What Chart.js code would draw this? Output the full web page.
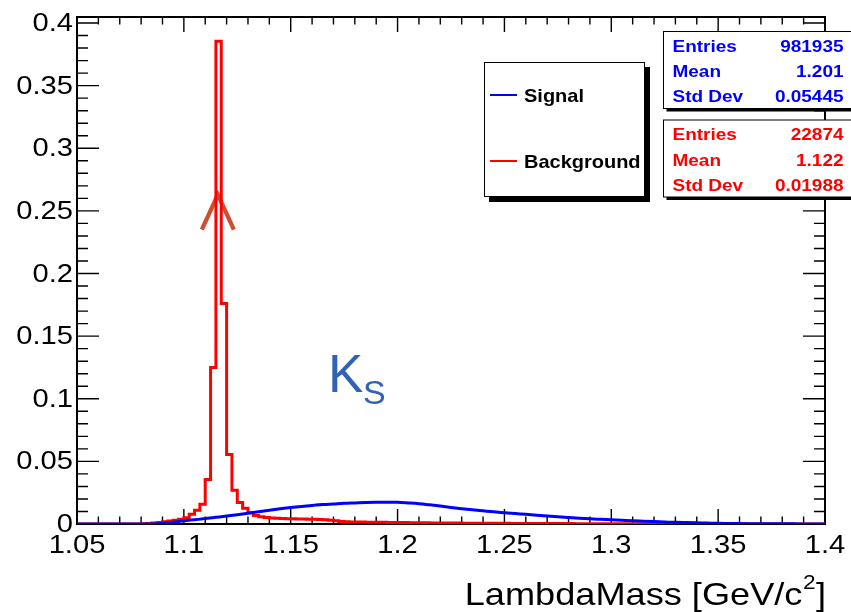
<!DOCTYPE html>
<html>
<head>
<meta charset="utf-8">
<script src="https://cdn.jsdelivr.net/npm/chart.js@4.4.1/dist/chart.umd.min.js"></script>
<style>
  html, body { margin: 0; padding: 0; background: #ffffff; }
  #wrap { width: 851px; height: 612px; }
</style>
</head>
<body>
<div id="wrap"><canvas id="c" width="851" height="612" style="width:851px;height:612px"></canvas></div>
<script>
// ---------------- DATA ----------------
const xTickValues = [1.05, 1.1, 1.15, 1.2, 1.25, 1.3, 1.35, 1.4];
const xTickLabels = ['1.05', '1.1', '1.15', '1.2', '1.25', '1.3', '1.35', '1.4'];
const yTickValues = [0, 0.05, 0.1, 0.15, 0.2, 0.25, 0.3, 0.35, 0.4];
const yTickLabels = ['0', '0.05', '0.1', '0.15', '0.2', '0.25', '0.3', '0.35', '0.4'];
const xTitle = 'LambdaMass [GeV/c';
const xTitleSup = '2';
const xTitleEnd = ']';

// Background histogram: 140 bins of 0.0025 from 1.05 to 1.40 (bin contents)
const bgBinStart = 1.05;
const bgBinWidth = 0.0025;
const backgroundCounts = [
  0,0,0,0,0,0,0,0,0,0,
  0,0,0.0002,0.0004,0.0007,0.0011,0.0017,0.0023,0.0030,0.0038,
  0.0050,0.0077,0.0110,0.0157,0.0355,0.1250,0.3855,0.1760,0.0554,0.0270,
  0.0172,0.0125,0.0090,0.0068,0.0058,0.0052,0.0048,0.0045,0.0043,0.0042,
  0.0041,0.0040,0.0039,0.0038,0.0037,0.0035,0.0033,0.0030,0.0025,0.0020,
  0.0017,0.0016,0.0015,0.0015,0.0014,0.0014,0.0013,0.0013,0.0012,0.0012,
  0.0011,0.0011,0.0010,0.0010,0.0009,0.0009,0.0008,0.0008,0.0008,0.0007,
  0.0007,0.0007,0.0006,0.0006,0.0006,0.0006,0.0005,0.0005,0.0005,0.0005,
  0.0005,0.0004,0.0004,0.0004,0.0004,0.0004,0.0003,0.0003,0.0003,0.0003,
  0.0003,0.0003,0.0003,0.0002,0.0002,0.0002,0.0002,0.0002,0.0002,0.0002,
  0.0002,0.0002,0.0001,0.0001,0.0001,0.0001,0.0001,0.0001,0.0001,0.0001,
  0.0001,0.0001,0.0001,0.0001,0.0001,0.0001,0.0001,0.0001,0.0001,0.0001,
  0.0001,0.0001,0.0001,0.0001,0.0001,0,0,0,0,0,
  0,0,0,0,0,0,0,0,0,0
];

// Signal distribution sampled every 0.005 from 1.05 to 1.40
const sigStart = 1.05;
const sigStep = 0.005;
const signalValues = [
  0,0,0,0,0,0,0,0.0001,0.0006,0.0015,
  0.0025,0.0034,0.0043,0.0053,0.0063,0.0074,0.0086,0.0098,0.0110,0.0121,
  0.0131,0.0140,0.0148,0.0155,0.0160,0.0165,0.0168,0.0171,0.0173,0.0174,
  0.0173,0.0168,0.0162,0.0153,0.0143,0.0132,0.0122,0.0113,0.0105,0.0097,
  0.0090,0.0083,0.0077,0.0070,0.0064,0.0058,0.0052,0.0046,0.0041,0.0037,
  0.0033,0.0029,0.0025,0.0022,0.0019,0.0016,0.0013,0.0011,0.0009,0.0007,
  0.0005,0.0004,0.0003,0.0002,0.0002,0.0001,0.0001,0.0001,0,0,0
];

const legendNames = ['Signal', 'Background'];
const statLabels = ['Entries', 'Mean', 'Std Dev'];
const signalStats = ['981935', '1.201', '0.05445'];
const backgroundStats = ['22874', '1.122', '0.01988'];
const annotationText = 'K';
const annotationSub = 'S';
const arrowTip = { x: 1.1159, y: 0.263 };
const labelPos = { x: 1.1675, y: 0.1055 };

// ---------------- BUILD ----------------
const bgPoints = backgroundCounts.map((v, i) => ({ x: bgBinStart + i * bgBinWidth, y: v }));
bgPoints.push({ x: bgBinStart + backgroundCounts.length * bgBinWidth, y: backgroundCounts[backgroundCounts.length - 1] });
const sigPoints = signalValues.map((v, i) => ({ x: sigStart + i * sigStep, y: v }));

const FONT = '"Liberation Sans", Arial, Helvetica, sans-serif';
function txt(ctx, s, x, y, size, color, align, sx, bold) {
  ctx.save();
  ctx.font = (bold ? 'bold ' : '') + size + 'px ' + FONT;
  ctx.fillStyle = color;
  ctx.textBaseline = 'alphabetic';
  ctx.textAlign = 'left';
  const w = ctx.measureText(s).width * sx;
  const x0 = align === 'right' ? x - w : align === 'center' ? x - w / 2 : x;
  ctx.translate(x0, y);
  ctx.scale(sx, 1);
  ctx.fillText(s, 0, 0);
  ctx.restore();
  return w;
}
function measure(ctx, s, size, sx, bold) {
  ctx.save();
  ctx.font = (bold ? 'bold ' : '') + size + 'px ' + FONT;
  const w = ctx.measureText(s).width * sx;
  ctx.restore();
  return w;
}

const rootPlugin = {
  id: 'rootStyle',
  beforeDatasetsDraw(chart) {
    const { ctx, chartArea: a, scales: { x, y } } = chart;
    ctx.save();
    // arrow annotation
    const tx = x.getPixelForValue(arrowTip.x), ty = y.getPixelForValue(arrowTip.y);
    ctx.strokeStyle = 'rgb(208,78,46)';
    ctx.lineWidth = 4.2;
    ctx.lineJoin = 'miter';
    ctx.beginPath();
    ctx.moveTo(tx - 16, ty + 35);
    ctx.lineTo(tx, ty);
    ctx.lineTo(tx + 16, ty + 35);
    ctx.stroke();

    // ticks
    ctx.strokeStyle = '#000';
    ctx.lineWidth = 1.4;
    ctx.beginPath();
    for (let i = 0; i <= 35; i++) {
      const px = x.getPixelForValue(1.05 + i * 0.01);
      const L = (i % 5 === 0) ? 15 : 7.5;
      ctx.moveTo(px, a.bottom); ctx.lineTo(px, a.bottom - L);
      ctx.moveTo(px, a.top); ctx.lineTo(px, a.top + L);
    }
    for (let i = 0; i <= 40; i++) {
      const py = y.getPixelForValue(i * 0.01);
      const L = (i % 5 === 0) ? 22 : 11;
      ctx.moveTo(a.left, py); ctx.lineTo(a.left + L, py);
      ctx.moveTo(a.right, py); ctx.lineTo(a.right - L, py);
    }
    ctx.stroke();
    // frame
    ctx.lineWidth = 2;
    ctx.strokeRect(a.left, a.top, a.right - a.left, a.bottom - a.top);
    ctx.restore();
  },
  afterDraw(chart) {
    const { ctx, chartArea: a, scales: { x, y } } = chart;
    // tick labels
    yTickValues.forEach((v, i) => {
      txt(ctx, yTickLabels[i], a.left - 4, y.getPixelForValue(v) + 8, 26, '#000', 'right', 1.12, false);
    });
    xTickValues.forEach((v, i) => {
      txt(ctx, xTickLabels[i], x.getPixelForValue(v), 553, 26, '#000', 'center', 1.12, false);
    });
    // axis title
    const tf = 32, tsx = 1.13;
    const w1 = measure(ctx, xTitle, tf, tsx), w2 = measure(ctx, xTitleSup, 20, tsx), w3 = measure(ctx, xTitleEnd, tf, tsx);
    const start = a.right + 1 - (w1 + w2 + w3 + 1);
    txt(ctx, xTitle, start, 605, tf, '#000', 'left', tsx, false);
    txt(ctx, xTitleSup, start + w1 + 0.5, 589, 20, '#000', 'left', tsx, false);
    txt(ctx, xTitleEnd, start + w1 + w2 + 1, 605, tf, '#000', 'left', tsx, false);

    // legend box
    ctx.save();
    ctx.fillStyle = '#000';
    ctx.fillRect(489, 67, 161, 135);
    ctx.fillStyle = '#fff';
    ctx.fillRect(484, 62, 161, 135);
    ctx.strokeStyle = '#000';
    ctx.lineWidth = 1;
    ctx.strokeRect(484.5, 62.5, 160, 134);
    const legColors = ['#0000ff', '#ff0000'];
    const legY = [95, 161];
    legendNames.forEach((n, i) => {
      ctx.strokeStyle = legColors[i];
      ctx.lineWidth = 2;
      ctx.beginPath(); ctx.moveTo(490, legY[i]); ctx.lineTo(517, legY[i]); ctx.stroke();
      txt(ctx, n, 524, legY[i] + 6.6, 18.5, '#000', 'left', 1.08, true);
    });

    // stat boxes
    const boxes = [
      { top: 31.5, h: 77, color: '#0000ff', vals: signalStats, rows: [45.7, 70.7, 96] },
      { top: 120, h: 77, color: '#ff0000', vals: backgroundStats, rows: [134.3, 160, 185] }
    ];
    boxes.forEach(b => {
      ctx.fillStyle = '#000';
      ctx.fillRect(666.5, b.top + 3, 200, b.h);
      ctx.fillStyle = '#fff';
      ctx.fillRect(663.5, b.top, 200, b.h);
      ctx.strokeStyle = '#000';
      ctx.lineWidth = 1;
      ctx.strokeRect(663.5, b.top, 200, b.h);
      statLabels.forEach((l, i) => {
        txt(ctx, l, 672.5, b.rows[i] + 6, 16.5, b.color, 'left', 1.15, true);
        txt(ctx, b.vals[i], 843.5, b.rows[i] + 6, 16.5, b.color, 'right', 1.15, true);
      });
    });
    ctx.restore();

    // K_S annotation
    const kx = x.getPixelForValue(labelPos.x), ky = y.getPixelForValue(labelPos.y);
    const kw = txt(ctx, annotationText, kx, ky, 53, 'rgb(48,98,182)', 'left', 1, false);
    txt(ctx, annotationSub, kx + kw - 0.5, ky + 12.5, 34, 'rgb(48,98,182)', 'left', 1, false);
  }
};

new Chart(document.getElementById('c'), {
  type: 'line',
  data: {
    datasets: [
      {
        label: legendNames[0],
        data: sigPoints,
        borderColor: '#0000ff',
        borderWidth: 3,
        pointRadius: 0,
        cubicInterpolationMode: 'monotone',
        fill: false
      },
      {
        label: legendNames[1],
        data: bgPoints,
        borderColor: '#ff0000',
        borderWidth: 3,
        pointRadius: 0,
        stepped: 'before',
        fill: false
      }
    ]
  },
  options: {
    responsive: false,
    animation: false,
    devicePixelRatio: 1,
    layout: { padding: { left: 77, right: 26, top: 17, bottom: 88 } },
    scales: {
      x: { type: 'linear', min: 1.05, max: 1.4, display: false },
      y: { type: 'linear', min: 0, max: 0.4048, display: false }
    },
    plugins: { legend: { display: false }, tooltip: { enabled: false } }
  },
  plugins: [rootPlugin]
});
</script>
</body>
</html>
